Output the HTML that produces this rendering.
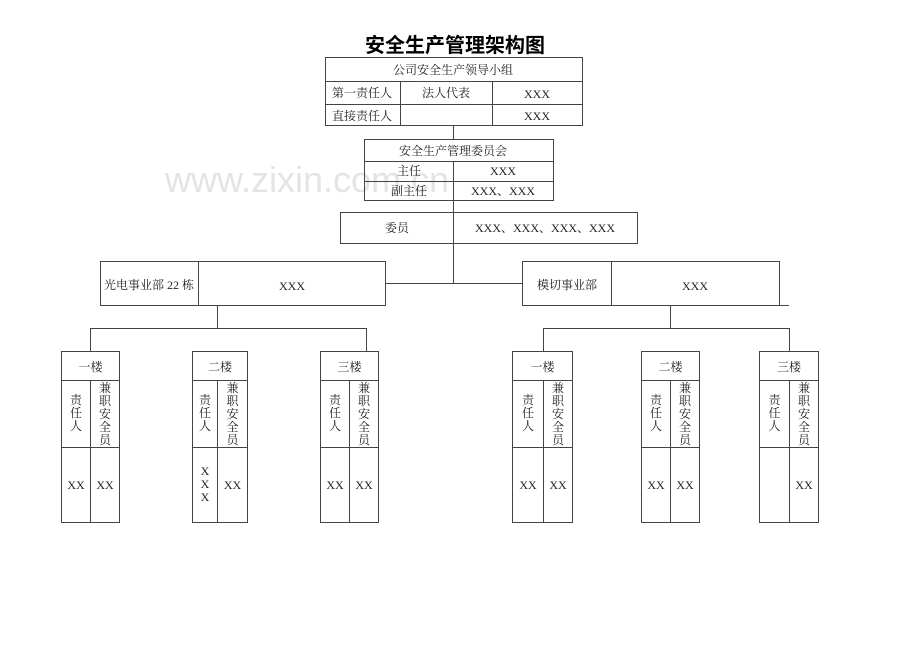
<!DOCTYPE html>
<html><head><meta charset="utf-8"><style>
body{margin:0;background:#fff;}
svg text{font-family:"Liberation Serif","Noto Serif CJK SC",serif;font-size:12px;fill:#222;}
</style></head><body>
<svg width="920" height="651" xmlns="http://www.w3.org/2000/svg">
<text x="165" y="192" style="font-family:'Liberation Sans',sans-serif;font-size:36px;fill:#e4e4e4">www.zixin.com.cn</text>
<text x="455" y="52" text-anchor="middle" style="font-family:'Liberation Sans','Noto Sans CJK SC',sans-serif;font-size:20px;font-weight:bold;fill:#000">安全生产管理架构图</text>
<g fill="none" stroke="#444" stroke-width="1">
<rect x="325.5" y="57.5" width="257" height="68"/>
<line x1="325" y1="81.5" x2="582" y2="81.5"/><line x1="325" y1="104.5" x2="582" y2="104.5"/>
<line x1="400.5" y1="81" x2="400.5" y2="125"/><line x1="492.5" y1="81" x2="492.5" y2="125"/>
<line x1="453.5" y1="125" x2="453.5" y2="139"/>
<rect x="364.5" y="139.5" width="189" height="61"/>
<line x1="364" y1="161.5" x2="553" y2="161.5"/><line x1="364" y1="181.5" x2="553" y2="181.5"/>
<line x1="453.5" y1="161" x2="453.5" y2="283"/>
<rect x="340.5" y="212.5" width="297" height="31" fill="#fff"/>
<line x1="453.5" y1="212" x2="453.5" y2="243"/>
<line x1="385" y1="283.5" x2="522" y2="283.5"/>
<rect x="100.5" y="261.5" width="285" height="44"/><line x1="198.5" y1="261" x2="198.5" y2="305"/>
<rect x="522.5" y="261.5" width="257" height="44"/><line x1="611.5" y1="261" x2="611.5" y2="305"/>
<line x1="779" y1="305.5" x2="789" y2="305.5"/>
<line x1="217.5" y1="305" x2="217.5" y2="328"/><line x1="90.5" y1="328.5" x2="366.5" y2="328.5"/>
<line x1="90.5" y1="328" x2="90.5" y2="351"/><line x1="366.5" y1="328" x2="366.5" y2="351"/>
<line x1="670.5" y1="305" x2="670.5" y2="328"/><line x1="543.5" y1="328.5" x2="789.5" y2="328.5"/>
<line x1="543.5" y1="328" x2="543.5" y2="351"/><line x1="789.5" y1="328" x2="789.5" y2="351"/>
</g>
<text x="453" y="74" text-anchor="middle">公司安全生产领导小组</text>
<text x="362" y="97" text-anchor="middle">第一责任人</text>
<text x="446" y="97" text-anchor="middle">法人代表</text>
<text x="537" y="98" text-anchor="middle">XXX</text>
<text x="362" y="120" text-anchor="middle">直接责任人</text>
<text x="537" y="120" text-anchor="middle">XXX</text>
<text x="453" y="155" text-anchor="middle">安全生产管理委员会</text>
<text x="409" y="175" text-anchor="middle">主任</text>
<text x="503" y="175" text-anchor="middle">XXX</text>
<text x="409" y="195" text-anchor="middle">副主任</text>
<text x="503" y="195" text-anchor="middle">XXX、XXX</text>
<text x="397" y="232" text-anchor="middle">委员</text>
<text x="545" y="232" text-anchor="middle">XXX、XXX、XXX、XXX</text>
<text x="149" y="289" text-anchor="middle">光电事业部 22 栋</text>
<text x="292" y="290" text-anchor="middle">XXX</text>
<text x="567" y="289" text-anchor="middle">模切事业部</text>
<text x="695" y="290" text-anchor="middle">XXX</text>
<script>
var boxes=[[61,90,119,"一楼","XX"],[192,217,247,"二楼","XXX"],[320,349,378,"三楼","XX"],[512,543,572,"一楼","XX"],[641,670,699,"二楼","XX"],[759,789,818,"三楼",""]];
var ns="http://www.w3.org/2000/svg",svg=document.querySelector("svg");
function el(t,a,txt){var e=document.createElementNS(ns,t);for(var k in a)e.setAttribute(k,a[k]);if(txt!=null)e.textContent=txt;svg.appendChild(e);return e;}
boxes.forEach(function(b){
 var L=b[0]+.5,D=b[1]+.5,R=b[2]+.5,s={fill:"none",stroke:"#444"};
 el("rect",Object.assign({x:L,y:351.5,width:R-L,height:171},s));
 el("line",Object.assign({x1:L,y1:380.5,x2:R,y2:380.5},s));
 el("line",Object.assign({x1:L,y1:447.5,x2:R,y2:447.5},s));
 el("line",Object.assign({x1:D,y1:380,x2:D,y2:522},s));
 el("text",{x:(L+R)/2,y:371,"text-anchor":"middle"},b[3]);
 var c1=(L+D)/2,c2=(D+R)/2;
 "责任人".split("").forEach(function(ch,i){el("text",{x:c1,y:404+i*13,"text-anchor":"middle"},ch);});
 "兼职安全员".split("").forEach(function(ch,i){el("text",{x:c2,y:392+i*13,"text-anchor":"middle"},ch);});
 if(b[4]=="XXX"){["X","X","X"].forEach(function(ch,i){el("text",{x:c1,y:475+i*13,"text-anchor":"middle"},ch);});}
 else if(b[4])el("text",{x:c1,y:489,"text-anchor":"middle"},"XX");
 el("text",{x:c2,y:489,"text-anchor":"middle"},"XX");
});
</script>
</svg>
</body></html>
